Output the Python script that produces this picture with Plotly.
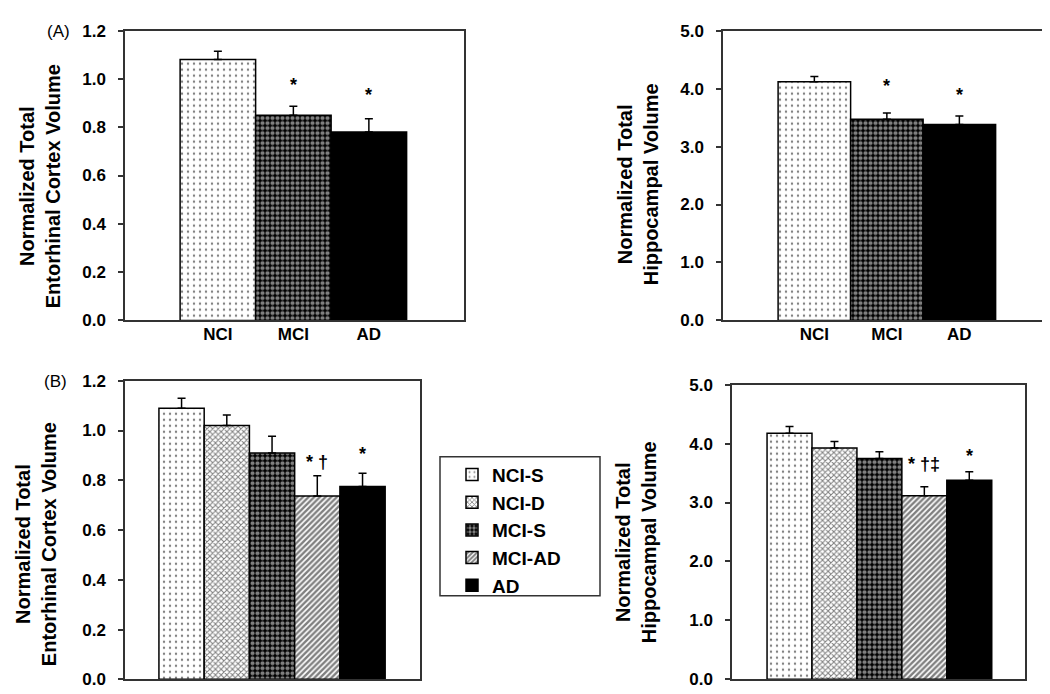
import plotly.graph_objects as go

# ---------------- data ----------------
groups_a = ["NCI", "MCI", "AD"]
ec_a = [1.08, 0.85, 0.78]
ec_a_err = [0.035, 0.037, 0.055]
hc_a = [4.12, 3.47, 3.38]
hc_a_err = [0.09, 0.11, 0.145]
sig_a = ["", "*", "*"]

groups_b = ["NCI-S", "NCI-D", "MCI-S", "MCI-AD", "AD"]
ec_b = [1.09, 1.02, 0.91, 0.737, 0.775]
ec_b_err = [0.04, 0.042, 0.067, 0.081, 0.053]
ec_b_sig = ["", "", "", "* \u2020", "*"]
hc_b = [4.175, 3.927, 3.746, 3.114, 3.378]
hc_b_err = [0.115, 0.11, 0.115, 0.153, 0.143]
hc_b_sig = ["", "", "", "* \u2020\u2021", "*"]

# ---------------- styles ----------------
FONT = "Liberation Sans, Arial, sans-serif"
styles = {
    "NCI-S": dict(color="white", pattern=dict(shape=".", fgcolor="black", bgcolor="white", size=6, solidity=0.12)),
    "NCI-D": dict(color="white", pattern=dict(shape="x", fgcolor="black", bgcolor="white", size=4, solidity=0.45)),
    "MCI-S": dict(color="black", pattern=dict(shape=".", fgcolor="white", bgcolor="black", size=5, solidity=0.55)),
    "MCI-AD": dict(color="white", pattern=dict(shape="/", fgcolor="black", bgcolor="white", size=4, solidity=0.6)),
    "AD": dict(color="black", pattern=dict(shape="")),
}
style_a = {"NCI": "NCI-S", "MCI": "MCI-S", "AD": "AD"}

fig = go.Figure()

def add_bars(names, vals, errs, xa, ya, legend, style_map=None):
    for i, (n, v, e) in enumerate(zip(names, vals, errs)):
        st = styles[style_map[n] if style_map else n]
        fig.add_trace(go.Bar(
            x=[i], y=[v], width=1.0, name=n,
            marker=dict(color=st["color"], pattern=st["pattern"],
                        line=dict(color="black", width=1.5)),
            error_y=dict(type="data", symmetric=False, array=[e], arrayminus=[0],
                         color="black", thickness=1.5, width=4),
            xaxis=xa, yaxis=ya, showlegend=legend,
        ))

add_bars(groups_a, ec_a, ec_a_err, "x", "y", False, style_a)
add_bars(groups_a, hc_a, hc_a_err, "x2", "y2", False, style_a)
add_bars(groups_b, ec_b, ec_b_err, "x3", "y3", True)
add_bars(groups_b, hc_b, hc_b_err, "x4", "y4", False)

W, H = 1050, 694
def px(x0, x1):
    return [x0 / W, x1 / W]
def py(top, bottom):
    return [1 - bottom / H, 1 - top / H]

axline = dict(showline=True, linecolor="#333333", linewidth=1.5, mirror=True,
              showgrid=False, zeroline=False)
tickfont = dict(family=FONT, size=17, color="black", weight="bold")

def xaxis(domain, rng, labels, anchor):
    d = dict(domain=domain, range=rng, anchor=anchor, ticks="", **axline)
    if labels:
        d.update(tickmode="array", tickvals=list(range(len(labels))), ticktext=labels,
                 tickfont=tickfont, ticklabelstandoff=-3)
    else:
        d.update(showticklabels=False)
    return d

def yaxis(domain, rng, dtick, anchor):
    return dict(domain=domain, range=rng, dtick=dtick, tickformat=".1f", anchor=anchor,
                ticks="outside", ticklen=5, tickwidth=1.5, tickcolor="#333333",
                ticklabelstandoff=9, tickfont=tickfont, **axline)

fig.update_layout(
    width=W, height=H, margin=dict(l=0, r=0, t=0, b=0),
    paper_bgcolor="white", plot_bgcolor="white", barmode="overlay",
    font=dict(family=FONT, color="black"),
    xaxis=xaxis(px(117, 456), [-1.23, 3.26], groups_a, "y"),
    yaxis=yaxis(py(14, 312), [0, 1.2], 0.2, "x"),
    xaxis2=xaxis(px(715, 1042), [-1.26, 3.25], groups_a, "y2"),
    yaxis2=yaxis(py(14, 312), [0, 5.0], 1.0, "x2"),
    xaxis3=xaxis(px(117, 412), [-1.25, 5.27], None, "y3"),
    yaxis3=yaxis(py(374, 681), [0, 1.2], 0.2, "x3"),
    xaxis4=xaxis(px(724, 1017), [-1.28, 5.24], None, "y4"),
    yaxis4=yaxis(py(378, 681), [0, 5.0], 1.0, "x4"),
    legend=dict(x=444 / W, y=1 - 451 / H, xanchor="left", yanchor="top",
                bgcolor="rgba(0,0,0,0)", borderwidth=0, itemwidth=30,
                font=dict(family=FONT, size=19, color="black", weight="bold"),
                tracegroupgap=0),
    showlegend=True,
)

# legend frame
fig.add_shape(type="rect", xref="paper", yref="paper",
              x0=432 / W, x1=592 / W, y0=1 - 595 / H, y1=1 - 452 / H,
              line=dict(color="#333333", width=1.5), fillcolor="rgba(0,0,0,0)")

ann = []
def titles(text, xc, yc):
    ann.append(dict(text=text, x=xc / W, y=1 - yc / H, xref="paper", yref="paper",
                    textangle=-90, showarrow=False, xanchor="center", yanchor="middle",
                    font=dict(family=FONT, size=20, color="black", weight="bold")))

titles("Normalized Total<br>Entorhinal Cortex Volume", 32, 174)
titles("Normalized Total<br>Hippocampal Volume", 630, 172)
titles("Normalized Total<br>Entorhinal Cortex Volume", 28, 542)
titles("Normalized Total<br>Hippocampal Volume", 628, 540)

for t, xc, yc in [("(A)", 50, 15), ("(B)", 47, 375)]:
    ann.append(dict(text=t, x=xc / W, y=1 - yc / H, xref="paper", yref="paper",
                    showarrow=False, xanchor="center", yanchor="middle",
                    font=dict(family=FONT, size=17, color="black")))

def sig(labels, vals, errs, xa, ya, shifts):
    for i, (s, v, e) in enumerate(zip(labels, vals, errs)):
        if s:
            ann.append(dict(text=s, x=i, y=v + e, xref=xa, yref=ya, showarrow=False,
                            xanchor="center", yanchor="bottom", yshift=shifts[i],
                            font=dict(family=FONT, size=18, color="black", weight="bold")))

sig(sig_a, ec_a, ec_a_err, "x", "y", [0, 9, 12])
sig(sig_a, hc_a, hc_a_err, "x2", "y2", [0, 15, 9])
sig(ec_b_sig, ec_b, ec_b_err, "x3", "y3", [0, 0, 0, 2, 7])
sig(hc_b_sig, hc_b, hc_b_err, "x4", "y4", [0, 0, 0, 11, 4])

fig.update_layout(annotations=ann)
fig.write_html("out.html")
